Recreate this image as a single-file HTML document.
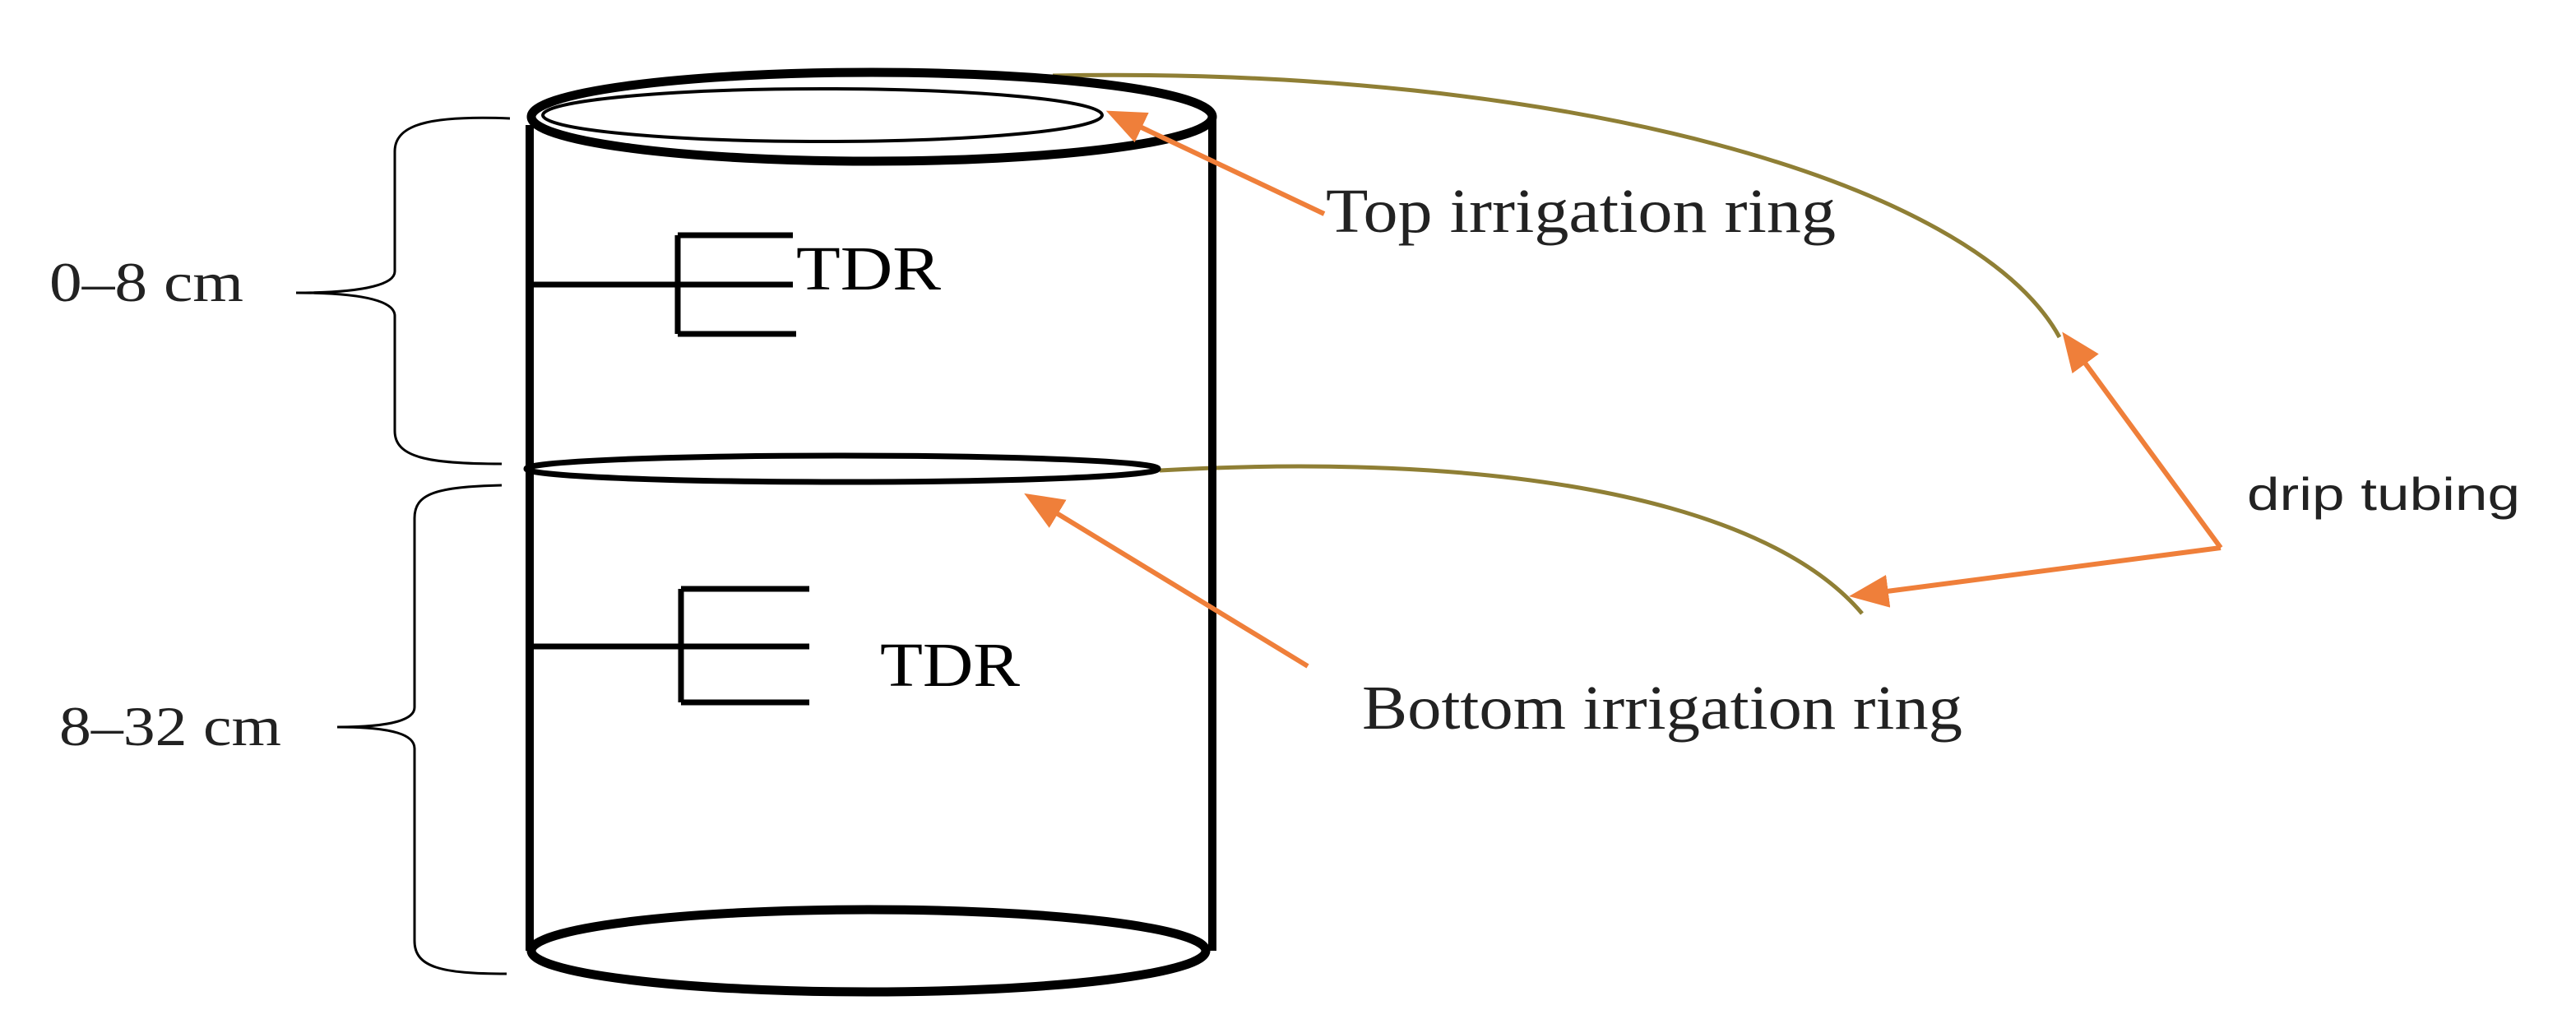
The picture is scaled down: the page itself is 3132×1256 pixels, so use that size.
<!DOCTYPE html>
<html><head><meta charset="utf-8"><style>
html,body{margin:0;padding:0;background:#fff;}
svg{display:block;}
</style></head><body>
<svg width="3132" height="1256" viewBox="0 0 1566 628" xmlns="http://www.w3.org/2000/svg">
<defs>
<marker id="ah" markerWidth="10" markerHeight="10" refX="8" refY="5" orient="auto" markerUnits="userSpaceOnUse" viewBox="0 0 10 10">
<path d="M0,0 L10,5 L0,10 z" fill="#ef7f3a"/>
</marker>
<marker id="ah2" markerWidth="24" markerHeight="20" refX="20" refY="10" orient="auto" markerUnits="userSpaceOnUse" viewBox="0 0 24 20">
<path d="M0,0 L24,10 L0,20 z" fill="#ef7f3a"/>
</marker>
</defs>
<rect width="1566" height="628" fill="#fff"/>
<!-- tubing -->
<path d="M640,46 C 950,40 1200,110 1252,205" fill="none" stroke="#8f7f35" stroke-width="2.5"/>
<path d="M705,286 C 900,275 1070,300 1132,373" fill="none" stroke="#8f7f35" stroke-width="2.5"/>
<!-- cylinder -->
<line x1="322" y1="76" x2="322" y2="578" stroke="#000" stroke-width="5"/>
<line x1="737" y1="72" x2="737" y2="578" stroke="#000" stroke-width="5"/>
<ellipse cx="530" cy="71" rx="207" ry="27" fill="none" stroke="#000" stroke-width="5.5"/>
<ellipse cx="500" cy="70" rx="170" ry="16" fill="none" stroke="#000" stroke-width="2"/>
<ellipse cx="512" cy="285" rx="192" ry="8" fill="none" stroke="#000" stroke-width="3.5"/>
<ellipse cx="528" cy="578" rx="205" ry="25" fill="none" stroke="#000" stroke-width="5.5"/>
<!-- TDR 1 -->
<path d="M324,173 H482 M412,143 V203 M412,143 H482 M412,203 H484" fill="none" stroke="#000" stroke-width="3.5"/>
<text x="484" y="176" font-family="Liberation Serif, serif" font-size="38" textLength="88" lengthAdjust="spacingAndGlyphs">TDR</text>
<!-- TDR 2 -->
<path d="M324,393 H492 M414,358 V427 M414,358 H492 M414,427 H492" fill="none" stroke="#000" stroke-width="3.5"/>
<text x="535" y="417" font-family="Liberation Serif, serif" font-size="38" textLength="85" lengthAdjust="spacingAndGlyphs">TDR</text>
<!-- braces -->
<path d="M310,72 C 260,70 240,76 240,92 V165 C 240,172 225,178 180,178 C 225,178 240,184 240,192 V262 C 240,278 260,282 305,282" fill="none" stroke="#000" stroke-width="1.5"/>
<path d="M305,295 C 265,296 252,300 252,315 V430 C 252,437 240,442 205,442 C 240,442 252,447 252,455 V572 C 252,588 268,592 308,592" fill="none" stroke="#000" stroke-width="1.5"/>
<text x="30" y="183" font-family="Liberation Serif, serif" font-size="34" fill="#222" textLength="118" lengthAdjust="spacingAndGlyphs">0–8 cm</text>
<text x="36" y="453" font-family="Liberation Serif, serif" font-size="34" fill="#222" textLength="135" lengthAdjust="spacingAndGlyphs">8–32 cm</text>
<!-- orange arrows -->
<line x1="805" y1="130" x2="676" y2="69" stroke="#ef7f3a" stroke-width="3" marker-end="url(#ah2)"/>
<line x1="795" y1="405" x2="626" y2="302" stroke="#ef7f3a" stroke-width="3" marker-end="url(#ah2)"/>
<polyline points="1350,333 1256,205" fill="none" stroke="#ef7f3a" stroke-width="3" marker-end="url(#ah2)"/>
<polyline points="1350,333 1128,362" fill="none" stroke="#ef7f3a" stroke-width="3" marker-end="url(#ah2)"/>
<!-- labels -->
<text x="806" y="141" font-family="Liberation Serif, serif" font-size="38" fill="#222" textLength="310" lengthAdjust="spacingAndGlyphs">Top irrigation ring</text>
<text x="828" y="443" font-family="Liberation Serif, serif" font-size="38" fill="#222" textLength="365" lengthAdjust="spacingAndGlyphs">Bottom irrigation ring</text>
<text x="1366" y="310" font-family="Liberation Sans, sans-serif" font-size="28" fill="#222" textLength="166" lengthAdjust="spacingAndGlyphs">drip tubing</text>
</svg>
</body></html>
